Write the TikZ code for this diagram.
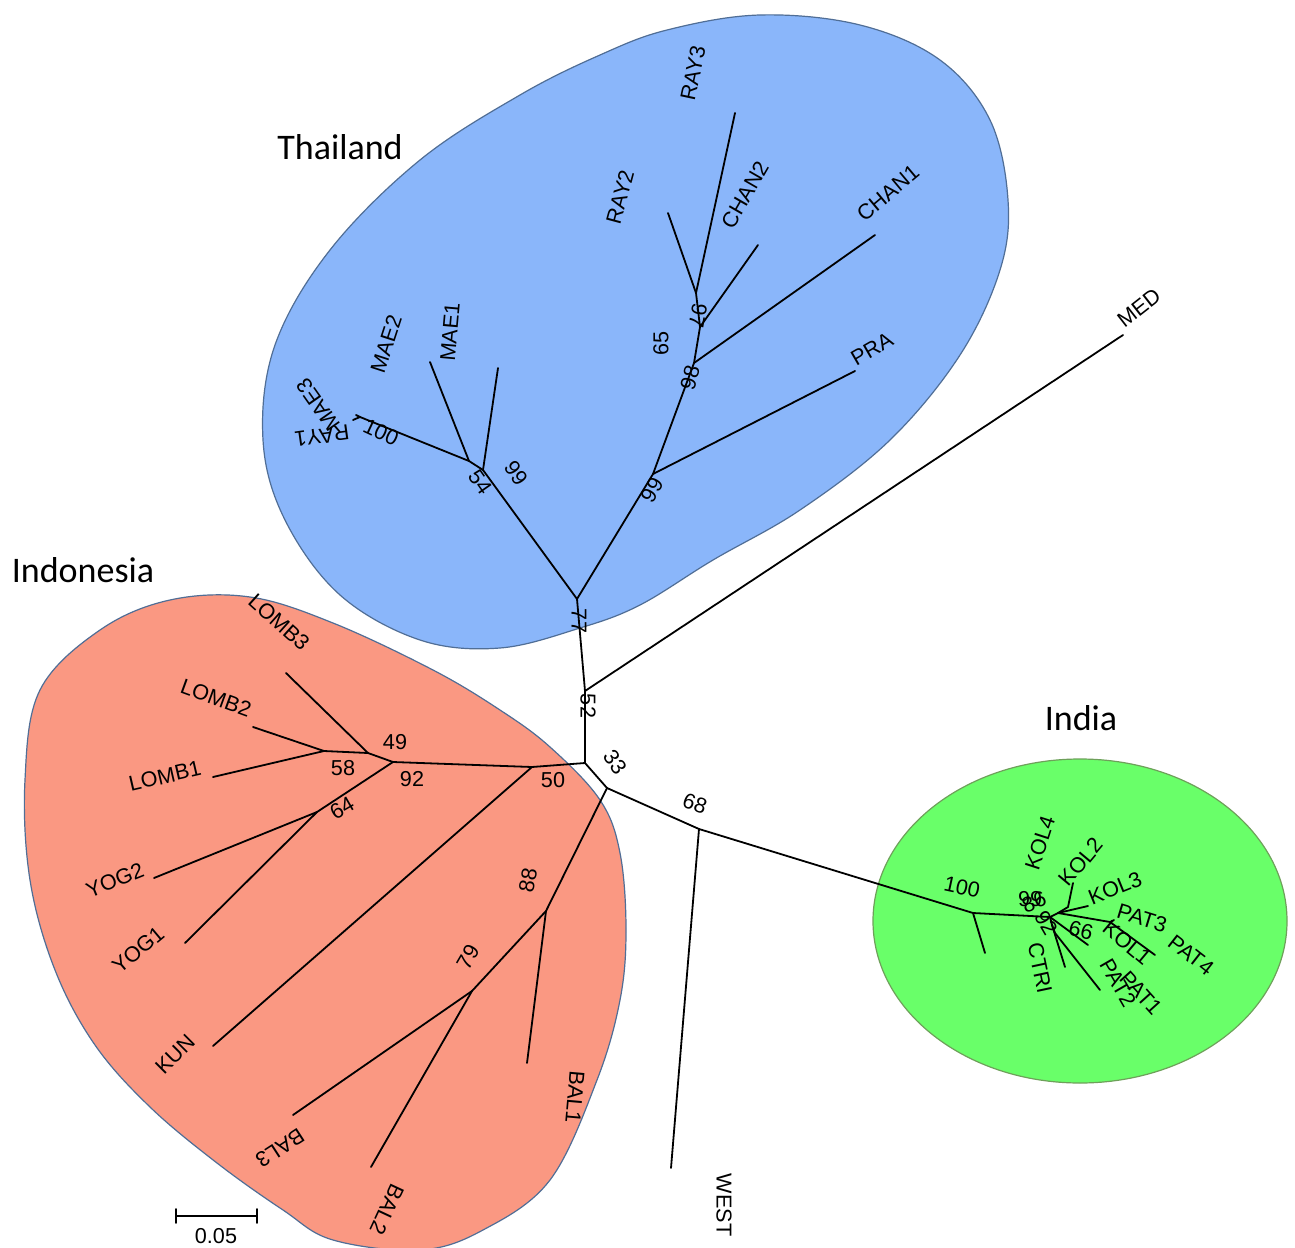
\documentclass[tikz,border=0pt]{standalone}
\usepackage{fontspec}
\setmainfont{Liberation Sans}
\newfontfamily\grpfont{Carlito}
\definecolor{thaiblue}{RGB}{138,182,250}
\definecolor{indosalmon}{RGB}{250,152,130}
\definecolor{indiagreen}{RGB}{105,255,105}
\definecolor{blobedge}{RGB}{80,110,150}
\definecolor{greenedge}{RGB}{110,160,90}
\begin{document}
\begin{tikzpicture}[x=0.5pt,y=-0.5pt,
  br/.style={line width=0.9pt, line cap=round, line join=round},
  lab/.style={font=\fontsize{10.8}{11}\selectfont, inner sep=0pt},
  grp/.style={font=\grpfont\fontsize{18}{20}\selectfont, inner sep=0pt},
  blob/.style={line width=0.6pt}]
\useasboundingbox (0,0) rectangle (1295,1247);
\fill[white] (0,0) rectangle (1295,1247);

% ---------- cluster areas ----------
\filldraw[blob, fill=thaiblue, draw=blobedge] plot[smooth cycle, tension=0.6] coordinates {
 (275,345) (330,250) (420,160) (520,95) (600,55) (667,30) (760,15) (860,25) (940,60)
 (990,120) (1008,200) (1000,270) (960,355) (890,440) (800,510) (713,560) (640,605)
 (580,628) (500,648) (420,640) (340,595) (285,520) (263,440)};
\filldraw[blob, fill=indosalmon, draw=blobedge] plot[smooth cycle, tension=0.6] coordinates {
 (250,597) (333,623) (433,670) (500,710) (550,747) (600,800) (620,853) (626,930)
 (620,1000) (597,1080) (550,1180) (483,1230) (420,1250) (333,1240) (283,1210)
 (217,1163) (150,1107) (95,1045) (55,970) (30,880) (25,780) (40,690) (100,630) (170,600)};
\filldraw[blob, fill=indiagreen, draw=greenedge] (1080,921) ellipse [x radius=103.5pt, y radius=81pt];

% ---------- group names ----------
\node[grp] (gThai) at (340,147) {Thailand};
\node[grp] (gIndo) at (83,570) {Indonesia};
\node[grp] (gIndia) at (1081,718) {India};

% ---------- tree coordinates ----------
\coordinate (T0) at (577,599);
\coordinate (M1) at (585,691);
\coordinate (C) at (585,763);
\coordinate (N50) at (532,767);
\coordinate (N92) at (393,762);
\coordinate (N49) at (368,753);
\coordinate (N58) at (324,751);
\coordinate (lLOMB3) at (286,673);
\coordinate (lLOMB2) at (253,727);
\coordinate (lLOMB1) at (213,777);
\coordinate (N64) at (317,812);
\coordinate (lYOG2) at (154,878);
\coordinate (lYOG1) at (185,943);
\coordinate (lKUN) at (213,1046);
\coordinate (J1) at (607,788);
\coordinate (N88) at (546,911);
\coordinate (lBAL1) at (527,1063);
\coordinate (N79) at (472,991);
\coordinate (lBAL3) at (293,1115);
\coordinate (lBAL2) at (371,1167);
\coordinate (W) at (699,829);
\coordinate (lWEST) at (671,1168);
\coordinate (lMED) at (1123,335);
% India
\coordinate (I100) at (973,913);
\coordinate (lIshort) at (985,953);
\coordinate (IC) at (1050,917);
\coordinate (K1) at (1058,913);
\coordinate (Kk) at (1068,907);
\coordinate (lKOL2) at (1073,883);
\coordinate (lKOL3) at (1088,906);
\coordinate (P3) at (1110,922);
\coordinate (lPAT3) at (1114,920);
\coordinate (lPAT4) at (1155,955);
\coordinate (lKOL1) at (1088,945);
\coordinate (Ic) at (1052,925);
\coordinate (Ip) at (1055,933);
\coordinate (lCTRI) at (1065,967);
\coordinate (lPAT12) at (1100,990);
% Thailand
\coordinate (TM) at (483,470);
\coordinate (TM2) at (469,461);
\coordinate (T100) at (360,417);
\coordinate (lRAY1) at (353,420);
\coordinate (lMAE3) at (356,415);
\coordinate (lMAE2) at (430,362);
\coordinate (lMAE1) at (498,368);
\coordinate (T99) at (653,474);
\coordinate (lPRA) at (855,371);
\coordinate (T98) at (694,363);
\coordinate (lCHAN1) at (875,235);
\coordinate (T97) at (700,327);
\coordinate (lCHAN2) at (758,245);
\coordinate (T65) at (696,293);
\coordinate (lRAY2) at (668,213);
\coordinate (lRAY3) at (735,113);

% ---------- branches ----------
\draw[br] (T0) -- (M1) -- (C);
\draw[br] (M1) -- (lMED);
\draw[br] (C) -- (N50) -- (N92) -- (N49) -- (N58) -- (lLOMB2);
\draw[br] (N49) -- (lLOMB3);
\draw[br] (N58) -- (lLOMB1);
\draw[br] (N92) -- (N64) -- (lYOG2);
\draw[br] (N64) -- (lYOG1);
\draw[br] (N50) -- (lKUN);
\draw[br] (C) -- (J1) -- (N88) -- (lBAL1);
\draw[br] (N88) -- (N79) -- (lBAL3);
\draw[br] (N79) -- (lBAL2);
\draw[br] (J1) -- (W) -- (lWEST);
\draw[br] (W) -- (I100) -- (lIshort);
\draw[br] (I100) -- (IC) -- (K1) -- (Kk) -- (lKOL2);
\draw[br] (K1) -- (lKOL3);
\draw[br] (K1) -- (P3) -- (lPAT4);
\draw[br] (P3) -- (lPAT3);
\draw[br] (IC) -- (lKOL1);
\draw[br] (IC) -- (Ic) -- (lCTRI);
\draw[br] (Ic) -- (Ip) -- (lPAT12);
\draw[br] (T0) -- (TM) -- (TM2) -- (T100) -- (lRAY1);
\draw[br] (T100) -- (lMAE3);
\draw[br] (TM2) -- (lMAE2);
\draw[br] (TM) -- (lMAE1);
\draw[br] (T0) -- (T99) -- (lPRA);
\draw[br] (T99) -- (T98) -- (lCHAN1);
\draw[br] (T98) -- (T97) -- (lCHAN2);
\draw[br] (T97) -- (T65) -- (lRAY2);
\draw[br] (T65) -- (lRAY3);

% ---------- leaf labels ----------
\node[lab, rotate=78] (tRAY3) at (693,73) {RAY3};
\node[lab, rotate=60] (tCHAN2) at (745,195) {CHAN2};
\node[lab, rotate=75] (tRAY2) at (620,197) {RAY2};
\node[lab, rotate=40] (tCHAN1) at (888,193) {CHAN1};
\node[lab, rotate=30] (tPRA) at (872,349) {PRA};
\node[lab, rotate=72] (tMAE2) at (386,344) {MAE2};
\node[lab, rotate=85] (tMAE1) at (450,332) {MAE1};
\node[lab, rotate=125] (tMAE3) at (318,405) {MAE3};
\node[lab, rotate=188] (tRAY1) at (322,436) {RAY1};
\node[lab, rotate=38] (tMED) at (1139,308) {MED};
\node[lab, rotate=-42] (tLOMB3) at (279,622) {LOMB3};
\node[lab, rotate=-20] (tLOMB2) at (216,698) {LOMB2};
\node[lab, rotate=13] (tLOMB1) at (165,776) {LOMB1};
\node[lab, rotate=22] (tYOG2) at (115,880) {YOG2};
\node[lab, rotate=40] (tYOG1) at (138,950) {YOG1};
\node[lab, rotate=45] (tKUN) at (175,1054) {KUN};
\node[lab, rotate=213] (tBAL3) at (280,1148) {BAL3};
\node[lab, rotate=245] (tBAL2) at (387,1210) {BAL2};
\node[lab, rotate=265] (tBAL1) at (575,1097) {BAL1};
\node[lab, rotate=-90] (tWEST) at (724,1205) {WEST};
\node[lab, rotate=72] (tKOL4) at (1040,843) {KOL4};
\node[lab, rotate=50] (tKOL2) at (1081,862) {KOL2};
\node[lab, rotate=22] (tKOL3) at (1115,888) {KOL3};
\node[lab, rotate=-17] (tPAT3) at (1142,918) {PAT3};
\node[lab, rotate=-38] (tPAT4) at (1191,955) {PAT4};
\node[lab, rotate=-40] (tKOL1) at (1127,943) {KOL1};
\node[lab, rotate=-48] (tPAT1) at (1141,993) {PAT1};
\node[lab, rotate=-60] (tPAT2) at (1118,983) {PAT2};
\node[lab, rotate=-78] (tCTRI) at (1040,968) {CTRI};

% ---------- support values ----------
\node[lab, rotate=-25] (b100t) at (381,432) {100};
\node[lab, rotate=-55] (b54) at (480,482) {54};
\node[lab, rotate=-55] (b99a) at (516,473) {99};
\node[lab, rotate=60] (b99b) at (652,490) {99};
\node[lab, rotate=75] (b98) at (690,378) {98};
\node[lab, rotate=-100] (b97) at (698,316) {97};
\node[lab, rotate=90] (b65) at (661,343) {65};
\node[lab, rotate=-90] (b77) at (579,621) {77};
\node[lab, rotate=-90] (b52) at (588,706) {52};
\node[lab, rotate=-55] (b33) at (615,762) {33};
\node[lab, rotate=-20] (b68) at (695,804) {68};
\node[lab] (b50) at (553,780) {50};
\node[lab] (b49) at (395,742) {49};
\node[lab] (b58) at (343,768) {58};
\node[lab] (b92) at (412,779) {92};
\node[lab, rotate=30] (b64) at (342,808) {64};
\node[lab, rotate=80] (b88) at (528,880) {88};
\node[lab, rotate=60] (b79) at (468,957) {79};
\node[lab, rotate=-12] (b100i) at (962,887) {100};
\node[lab, rotate=-15] (b66) at (1081,930) {66};
\node[lab] (b99i) at (1030,899) {99};
\node[lab, rotate=20] (b86i) at (1034,902) {86};
\node[lab, rotate=-60] (b92i) at (1046,923) {92};

% ---------- scale bar ----------
\coordinate (sb1) at (176,1216);
\coordinate (sb2) at (257,1216);
\draw[br] (sb1) -- (sb2);
\draw[br] ([yshift=3.5pt]sb1) -- ([yshift=-3.5pt]sb1);
\draw[br] ([yshift=3.5pt]sb2) -- ([yshift=-3.5pt]sb2);
\node[lab] (sblab) at (216,1236) {0.05};
\end{tikzpicture}
\end{document}
